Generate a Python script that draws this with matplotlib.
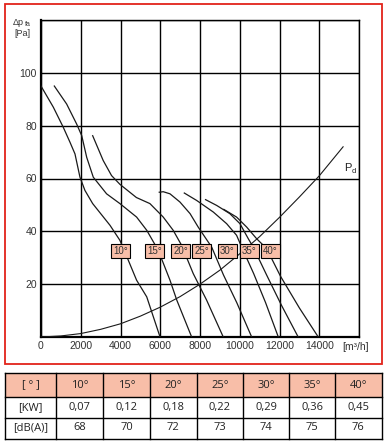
import numpy as np
import matplotlib.pyplot as plt
from matplotlib.patches import Rectangle

# ===== curve data (flow m3/h, pressure Pa) =====
q10 = [0, 620, 1120, 1460, 1710, 1960, 2210, 2600, 3470, 3970, 4390, 4810, 5320, 5650, 5990]
p10 = [95, 87, 79.4, 73.7, 69.3, 60.5, 55.5, 50.5, 42.3, 36.6, 29.1, 21.5, 15.2, 7.7, 0]

q15 = [670, 1290, 1795, 2050, 2300, 2630, 3300, 3970, 4810, 5320, 5900, 6490, 6830, 7580]
p15 = [95, 88.2, 80.6, 76.2, 68, 60.5, 54.2, 50.5, 45.4, 40.4, 32.8, 21.5, 14, 0]

q20 = [2600, 3130, 3550, 3970, 4800, 5480, 6150, 6650, 7075, 7660, 8330, 9170]
p20 = [76.2, 66.8, 61.1, 57.8, 52.8, 50.5, 45.4, 40.4, 34.7, 24, 14, 0]

q25 = [5950, 6150, 6490, 6990, 7500, 7910, 8590, 9180, 9850, 10600]
p25 = [54.8, 55.0, 54.2, 51.1, 46.7, 41.6, 34, 23.5, 13, 0]

q30 = [7210, 7830, 8670, 9340, 9840, 10100, 10700, 11300, 11940]
p30 = [54.5, 51.7, 47.3, 42.9, 38.5, 34, 24, 13, 0]

q35 = [8280, 8840, 9500, 10010, 10430, 10680, 11350, 12100, 12940]
p35 = [52, 49.8, 46.7, 42.9, 37.2, 34, 23.5, 12, 0]

q40 = [9200, 9840, 10350, 10850, 11350, 12050, 13000, 13950]
p40 = [48.3, 45.4, 41.6, 37.2, 33.5, 23, 11, 0]

# dynamic pressure curve
q_pd = [0, 1000, 2000, 3000, 4000, 5000, 6000, 7000, 8000, 9000, 10000, 11000, 12000, 13000, 14000, 15200]
p_pd = [0, 0.4, 1.3, 2.9, 5, 7.9, 11.3, 15.3, 20, 25.3, 31.5, 38, 45.3, 53, 61, 72]

angles = ['10°', '15°', '20°', '25°', '30°', '35°', '40°']
label_q = [4010, 5735, 7040, 8080, 9370, 10480, 11555]
label_p = 32.6

# table below the chart
kw = ['0,07', '0,12', '0,18', '0,22', '0,29', '0,36', '0,45']
dba = ['68', '70', '72', '73', '74', '75', '76']

salmon = '#f8bea8'
red = '#e2231a'

fig = plt.figure(figsize=(3.87, 4.43), dpi=100)

# background axes in pixel coords for frame + table
bg = fig.add_axes([0, 0, 1, 1])
bg.set_xlim(0, 387)
bg.set_ylim(443, 0)
bg.axis('off')
bg.add_patch(Rectangle((5, 4), 376.5, 360, fill=False, edgecolor=red, lw=1.3))

# ===== chart =====
ax = fig.add_axes([41/387, 1-337/443, 318/387, 317/443])
for q, p in zip([q10, q15, q20, q25, q30, q35, q40], [p10, p15, p20, p25, p30, p35, p40]):
    ax.plot(q, p, color='#1a1a1a', lw=0.9, zorder=3)
ax.plot(q_pd, p_pd, color='#1a1a1a', lw=0.8, zorder=3)

for t, x in zip(angles, label_q):
    ax.text(x, label_p, t, ha='center', va='center', fontsize=7, color='#333333',
            family=['Liberation Sans', 'DejaVu Sans'], zorder=5,
            bbox=dict(boxstyle='square,pad=0.22', facecolor=salmon, edgecolor='black', lw=0.8))

ax.text(15250, 64, 'P', fontsize=8, color='#222222', family='Liberation Sans', va='center')
ax.text(15650, 62.8, 'd', fontsize=5.5, color='#222222', family='Liberation Sans', va='center')

# model title box
bg.add_patch(Rectangle((215, 29), 133, 22, facecolor=salmon, edgecolor='black', lw=0.9, zorder=5))
bg.text(281.5, 40.5, 'AND 710-7 / 720', ha='center', va='center',
        fontsize=10.5, color='#222222', family='Liberation Sans', zorder=6)

ax.set_xlim(0, 16000)
ax.set_ylim(0, 120)
ax.set_xticks(np.arange(0, 16001, 2000))
ax.set_yticks(np.arange(0, 121, 20))
ax.set_xticklabels([str(v) for v in range(0, 14001, 2000)] + [''])
ax.set_yticklabels([''] + [str(v) for v in range(20, 101, 20)] + [''])
ax.grid(True, color='black', lw=1.0)
ax.tick_params(length=0, labelsize=7.5, labelcolor='#333333', pad=3)
for lab in ax.get_xticklabels() + ax.get_yticklabels():
    lab.set_family('Liberation Sans')
for s in ['left', 'bottom']:
    ax.spines[s].set_linewidth(1.6)
for s in ['right', 'top']:
    ax.spines[s].set_linewidth(1.0)
ax.set_axisbelow(True)

# axis captions
bg.text(13, 22, 'Δp', fontsize=6.5, color='#333333', family='Liberation Sans', va='center')
bg.text(25, 24, 'fa', fontsize=5, color='#333333', family='Liberation Sans', va='center')
bg.text(14, 33, '[Pa]', fontsize=6.5, color='#333333', family='Liberation Sans', va='center')
bg.text(342, 347, '[m³/h]', fontsize=7.5, color='#333333', family='Liberation Sans', va='center')

# ===== table =====
col_edges = [5, 56, 103.3, 150, 196.7, 242.7, 289.3, 335, 381.5]
row_edges = [373, 397, 417.5, 438.5]
bg.add_patch(Rectangle((col_edges[0], row_edges[0]), col_edges[-1]-col_edges[0],
                       row_edges[1]-row_edges[0], facecolor=salmon, edgecolor='none'))
for x in col_edges:
    bg.plot([x, x], [row_edges[0], row_edges[-1]], color='black', lw=1.0)
for y in row_edges:
    bg.plot([col_edges[0], col_edges[-1]], [y, y], color='black', lw=1.0)

rows = [['[ ° ]'] + angles, ['[KW]'] + kw, ['[dB(A)]'] + dba]
for r, row in enumerate(rows):
    yc = (row_edges[r] + row_edges[r+1]) / 2
    for c, t in enumerate(row):
        xc = (col_edges[c] + col_edges[c+1]) / 2
        bg.text(xc, yc, t, ha='center', va='center', fontsize=8, color='#222222',
                family=['Open Sans', 'DejaVu Sans'])

fig.savefig('out.png', dpi=100)
